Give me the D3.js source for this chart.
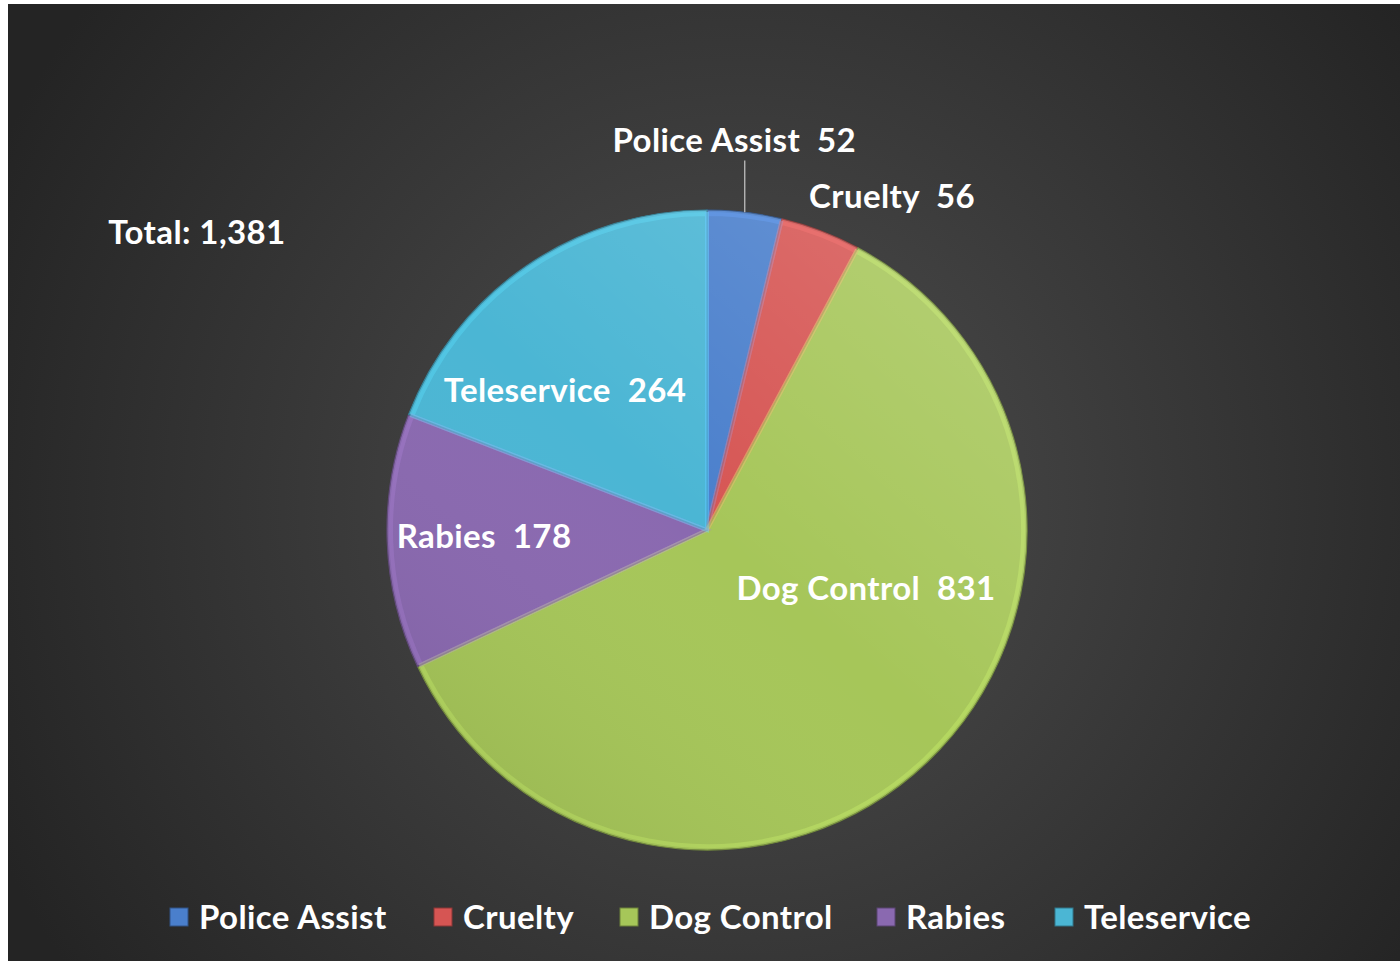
<!DOCTYPE html>
<html>
<head>
<meta charset="utf-8">
<script src="https://cdn.jsdelivr.net/npm/d3@7"></script>
<style>
  body { margin: 0; background: #fff; }
  text { font-family: Lato, "Open Sans", sans-serif; font-weight: 700; fill: #fff; white-space: pre; letter-spacing: 0.4px; }
</style>
</head>
<body>
<script>
const categories = ['Police Assist', 'Cruelty', 'Dog Control', 'Rabies', 'Teleservice'];
const values = [52, 56, 831, 178, 264];
const colors = ['#4a7fcc', '#d65553', '#a6c659', '#8a69b0', '#4bb6d4'];
const totalLabel = 'Total: 1,381';

const width = 1400;
const height = 961;
const cx = 707;
const cy = 530;
const radius = 320;
const fontSize = 33;

// where each data label sits: [angle in degrees from top, fraction of radius]
const labelSpot = {
  'Police Assist': [4, 1.222],
  'Cruelty': [29, 1.193],
  'Dog Control': [110, 0.529],
  'Rabies': [268.5, 0.697],
  'Teleservice': [314.6, 0.623]
};

const data = categories.map((c, i) => ({ name: c, value: values[i], color: colors[i] }));

const svg = d3.select('body').append('svg')
  .attr('width', width)
  .attr('height', height);

const defs = svg.append('defs');

const bg = defs.append('radialGradient')
  .attr('id', 'bg')
  .attr('gradientUnits', 'userSpaceOnUse')
  .attr('cx', 740).attr('cy', 500).attr('r', 820);
bg.append('stop').attr('offset', '0%').attr('stop-color', '#4f4f4f');
bg.append('stop').attr('offset', '100%').attr('stop-color', '#242424');

const sheen = defs.append('linearGradient')
  .attr('id', 'sheen')
  .attr('x1', '85%').attr('y1', '10%').attr('x2', '15%').attr('y2', '90%');
sheen.append('stop').attr('offset', '0%').attr('stop-color', '#fff').attr('stop-opacity', 0.14);
sheen.append('stop').attr('offset', '50%').attr('stop-color', '#fff').attr('stop-opacity', 0);
sheen.append('stop').attr('offset', '100%').attr('stop-color', '#000').attr('stop-opacity', 0.06);

svg.append('rect')
  .attr('x', 8).attr('y', 4)
  .attr('width', width - 8).attr('height', height - 4)
  .attr('fill', 'url(#bg)');

const pie = d3.pie().value((d) => d.value).sort(null);
const arc = d3.arc().innerRadius(0).outerRadius(radius);
const arcs = pie(data);

const pieGroup = svg.append('g')
  .attr('transform', `translate(${cx}, ${cy})`);

pieGroup.selectAll('path.slice')
  .data(arcs)
  .enter()
  .append('path')
  .attr('class', 'slice')
  .attr('d', arc)
  .attr('fill', (d) => d.data.color)
  .attr('stroke', (d) => d3.color(d.data.color).darker(1))
  .attr('stroke-width', 1.2);

// soft bevel highlight along slice edges
pieGroup.selectAll('path.bevel')
  .data(arcs)
  .enter()
  .append('path')
  .attr('class', 'bevel')
  .attr('d', d3.arc().innerRadius(0).outerRadius(radius - 4))
  .attr('fill', 'none')
  .attr('stroke', (d) => d3.color(d.data.color).brighter(0.6))
  .attr('stroke-opacity', 0.35)
  .attr('stroke-width', 4);

pieGroup.append('circle')
  .attr('r', radius)
  .attr('fill', 'url(#sheen)');

// leader line for Police Assist
const police = arcs[0];
const midA = (police.startAngle + police.endAngle) / 2;
const lx = Math.sin(midA) * radius;
const ly = -Math.cos(midA) * radius;
pieGroup.append('line')
  .attr('x1', lx).attr('y1', ly)
  .attr('x2', lx).attr('y2', -radius * 1.155)
  .attr('stroke', '#c8c8c8')
  .attr('stroke-width', 1.2);

pieGroup.selectAll('text.label')
  .data(arcs)
  .enter()
  .append('text')
  .attr('class', 'label')
  .attr('x', (d) => Math.sin(labelSpot[d.data.name][0] * Math.PI / 180) * radius * labelSpot[d.data.name][1])
  .attr('y', (d) => -Math.cos(labelSpot[d.data.name][0] * Math.PI / 180) * radius * labelSpot[d.data.name][1])
  .attr('dy', '0.36em')
  .attr('text-anchor', 'middle')
  .attr('font-size', fontSize)
  .text((d) => `${d.data.name}  ${d.data.value}`);

svg.append('text')
  .attr('x', 197).attr('y', 232)
  .attr('dy', '0.36em')
  .attr('text-anchor', 'middle')
  .attr('font-size', fontSize)
  .text(totalLabel);

// legend
const legend = svg.append('g').attr('transform', 'translate(0, 917)');
const legendX = d3.scaleOrdinal().domain(categories).range([170, 434, 620, 877, 1055]);

const item = legend.selectAll('g')
  .data(data)
  .enter()
  .append('g')
  .attr('transform', (d) => `translate(${legendX(d.name)}, 0)`);

item.append('rect')
  .attr('x', 0).attr('y', -9)
  .attr('width', 18).attr('height', 18)
  .attr('fill', (d) => d.color)
  .attr('stroke', (d) => d3.color(d.color).darker(1.2))
  .attr('stroke-width', 1);

item.append('text')
  .attr('x', 29).attr('y', 0)
  .attr('dy', '0.36em')
  .attr('font-size', fontSize)
  .text((d) => d.name);
</script>
</body>
</html>
